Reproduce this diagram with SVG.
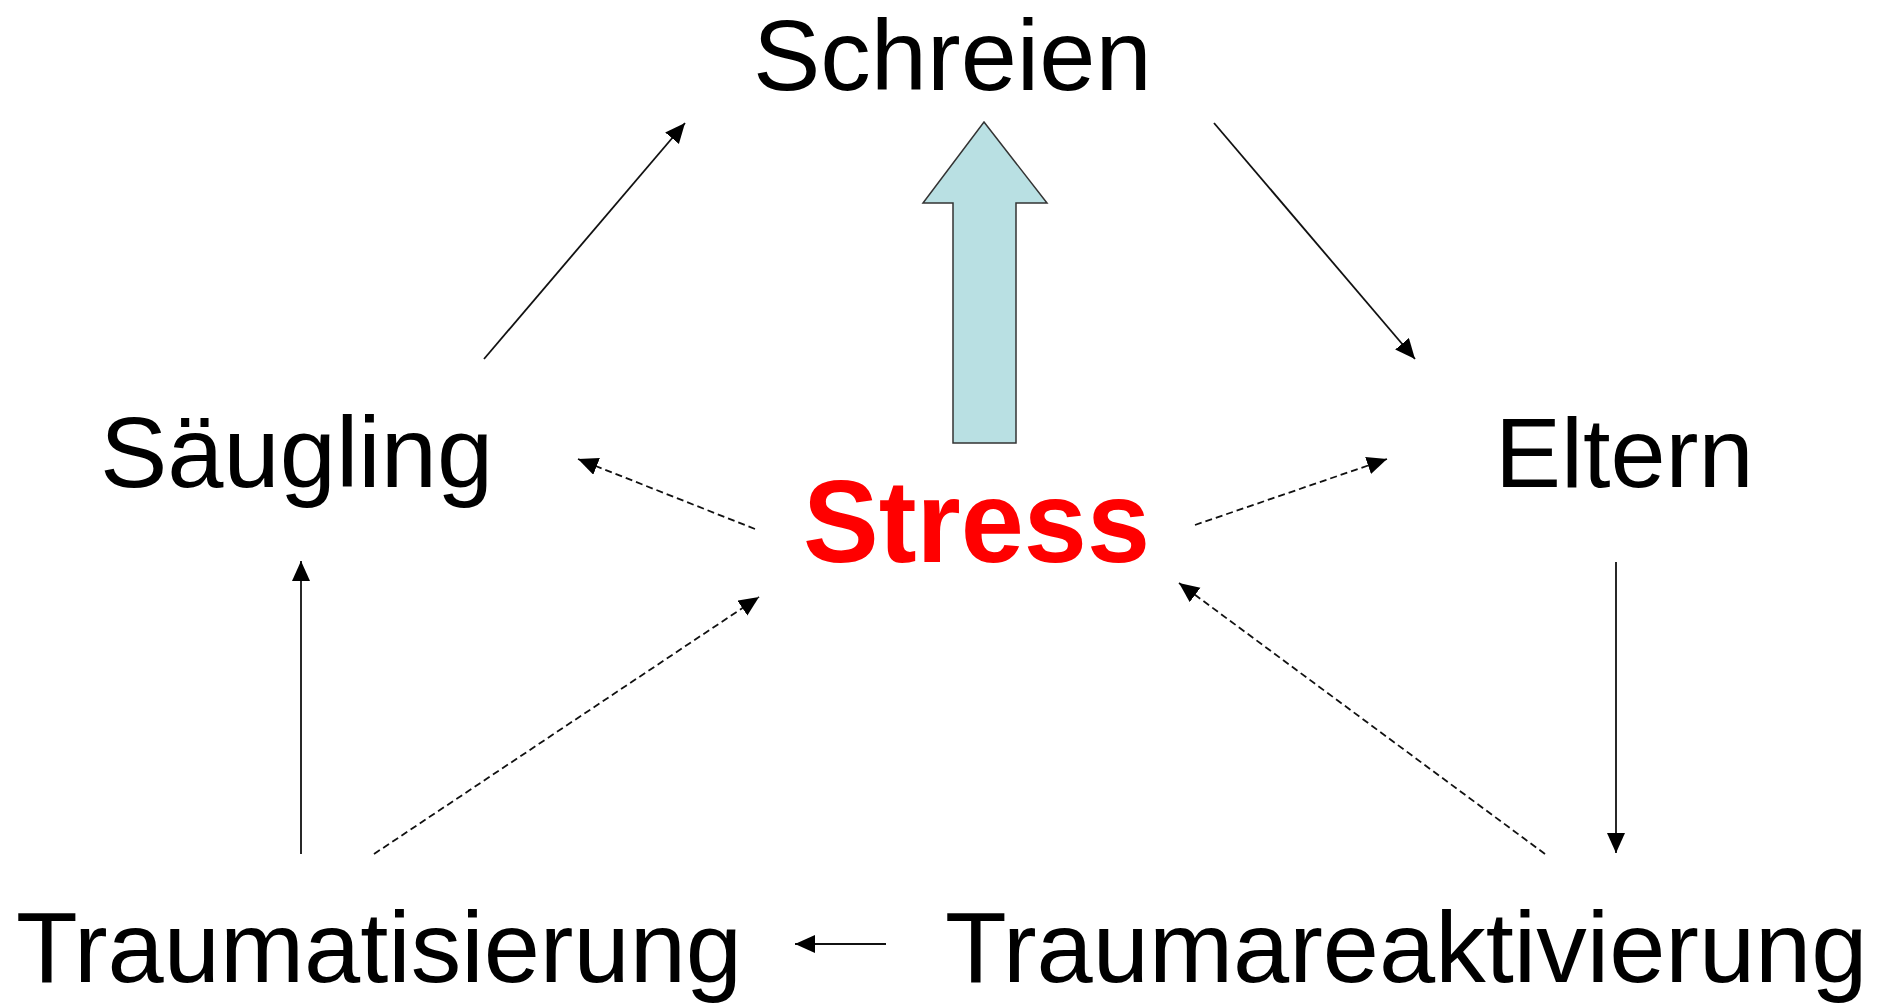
<svg xmlns="http://www.w3.org/2000/svg" width="1904" height="1003" viewBox="0 0 1904 1003">
<style>
.lbl{font-family:"Liberation Sans",Arial,sans-serif;fill:#000}
.stress{font-family:"Liberation Sans",Arial,sans-serif;font-weight:bold;fill:#ff0000}
.ln{stroke:#111;stroke-width:1.8;fill:none;marker-end:url(#ah)}
.dash{stroke-dasharray:7 4}
</style>
<defs>
<marker id="ah" markerUnits="userSpaceOnUse" markerWidth="22" markerHeight="20" refX="20" refY="9" orient="auto">
<path d="M0,0 L20,9 L0,18 Z" fill="#000"/>
</marker>
</defs>
<rect width="1904" height="1003" fill="#fff"/>
<g id="connectors">
<line class="ln" x1="484" y1="359" x2="685" y2="123"/>
<line class="ln" x1="1214" y1="123" x2="1415" y2="359"/>
<line class="ln" x1="1616" y1="562" x2="1616" y2="853"/>
<line class="ln" x1="886" y1="944" x2="795" y2="944"/>
<line class="ln" x1="301" y1="854" x2="301" y2="561"/>
<line class="ln dash" x1="755" y1="529" x2="578" y2="459"/>
<line class="ln dash" x1="1195" y1="525" x2="1387" y2="459"/>
<line class="ln dash" x1="374" y1="854" x2="759" y2="597"/>
<line class="ln dash" x1="1545" y1="854" x2="1179" y2="583"/>
</g>
<g id="big-arrow">
<path d="M984,122 L1047,203 L1016,203 L1016,443 L953,443 L953,203 L923,203 Z" fill="#b9e0e3" stroke="#333" stroke-width="1.5" stroke-linejoin="miter"/>
</g>
<g id="node-schreien"><text class="lbl" x="753" y="90" font-size="101">Schreien</text></g>
<g id="node-saeugling"><text class="lbl" x="100" y="487" font-size="101">Säugling</text></g>
<g id="node-eltern"><text class="lbl" x="1495" y="487" font-size="99">Eltern</text></g>
<g id="node-stress"><text class="stress" x="803" y="562" font-size="116" textLength="347" lengthAdjust="spacingAndGlyphs">Stress</text></g>
<g id="node-traumatisierung"><text class="lbl" x="16" y="982" font-size="101">Traumatisierung</text></g>
<g id="node-traumareaktivierung"><text class="lbl" x="945" y="982" font-size="101">Traumareaktivierung</text></g>
</svg>
